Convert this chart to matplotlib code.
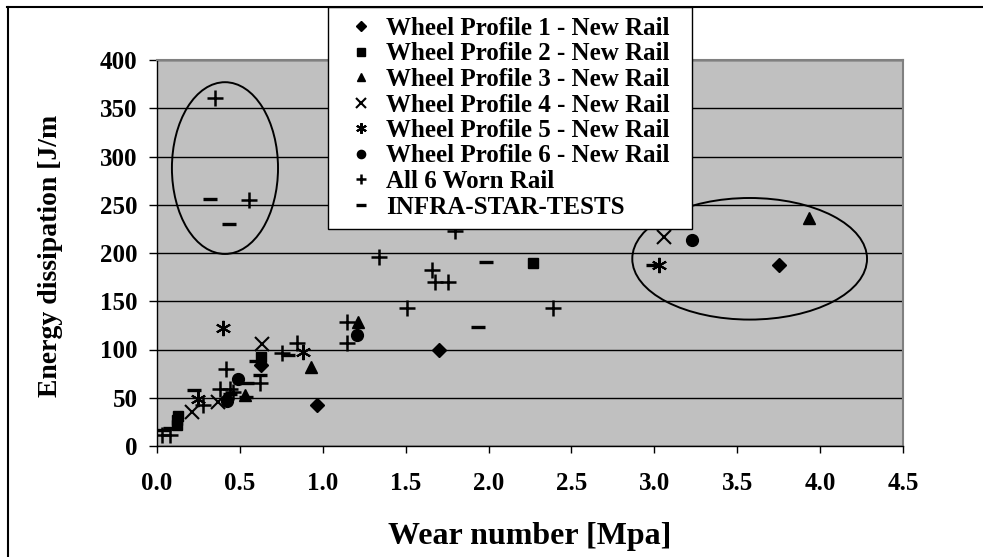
import matplotlib
matplotlib.use("Agg")
import matplotlib.pyplot as plt
from matplotlib.patches import Ellipse
from matplotlib.lines import Line2D

plt.rcParams['font.family'] = ['Liberation Serif', 'DejaVu Serif']
plt.rcParams['font.weight'] = 'bold'

# wear number [Mpa] vs energy dissipation [J/m]
p1_x = [0.627, 0.966, 1.70, 3.75]
p1_y = [84, 42.5, 99, 188]
p2_x = [0.12, 0.12, 0.125, 0.63, 2.27]
p2_y = [22, 27, 31, 92, 190]
p3_x = [0.53, 0.926, 1.21, 3.93]
p3_y = [53, 82, 129, 236]
p4_x = [0.213, 0.37, 0.635, 3.06]
p4_y = [35.5, 46, 106, 217]
p5_x = [0.25, 0.40, 0.88, 3.03]
p5_y = [49, 122, 97, 188]
p6_x = [0.42, 0.49, 1.207, 3.23]
p6_y = [46.5, 69, 115, 213]
worn_x = [0.032, 0.078, 0.28, 0.38, 0.44, 0.46, 0.414, 0.62, 0.757, 0.845,
          1.147, 1.147, 1.34, 1.51, 1.66, 1.675, 1.755, 1.80, 2.39, 0.35, 0.555]
worn_y = [11.5, 11.5, 42.5, 59, 59, 56, 80, 65.5, 96, 106.5,
          106.5, 129, 196, 143, 182, 170, 170, 223, 143, 361, 255]
infra_x = [0.04, 0.08, 0.225, 0.44, 0.54, 0.535, 0.62, 0.60, 0.79, 1.986,
           1.936, 2.99, 0.32, 0.435]
infra_y = [17, 19, 58, 53.5, 65.5, 51, 73.5, 88, 94, 191,
           123.6, 188, 256, 230]

labels = ['Wheel Profile 1 - New Rail', 'Wheel Profile 2 - New Rail',
          'Wheel Profile 3 - New Rail', 'Wheel Profile 4 - New Rail',
          'Wheel Profile 5 - New Rail', 'Wheel Profile 6 - New Rail',
          'All 6 Worn Rail', 'INFRA-STAR-TESTS']

fig = plt.figure(figsize=(9.83, 5.57), dpi=100)
ax = fig.add_axes([157/983, 1-446/557, 746/983, 386/557])
ax.set_facecolor('#c0c0c0')

ax.plot(p1_x, p1_y, 'D', color='black', ms=7, ls='none', label=labels[0])
ax.plot(p2_x, p2_y, 's', color='black', ms=7.5, ls='none', label=labels[1])
ax.plot(p3_x, p3_y, '^', color='black', ms=8.5, ls='none', label=labels[2])
ax.plot(p4_x, p4_y, 'x', color='black', ms=9.5, mew=1.5, ls='none', label=labels[3])
ax.plot(p5_x, p5_y, marker=(6, 2, 0), color='black', ms=11, mew=1.5, ls='none', label=labels[4])
ax.plot(p6_x, p6_y, 'o', color='black', ms=8.5, ls='none', label=labels[5])
ax.plot(worn_x, worn_y, '+', color='black', ms=11, mew=1.8, ls='none', label=labels[6])
ax.plot(infra_x, infra_y, '_', color='black', ms=9.5, mew=2.4, ls='none', label=labels[7])

# circled groups
ax.add_patch(Ellipse((0.41, 288), 0.64, 178, fill=False, edgecolor='black', lw=1.4, zorder=3))
ax.add_patch(Ellipse((3.575, 194), 1.416, 126, fill=False, edgecolor='black', lw=1.4, zorder=3))

ax.set_xlim(0, 4.5)
ax.set_ylim(0, 400)
ax.set_xticks([0.0, 0.5, 1.0, 1.5, 2.0, 2.5, 3.0, 3.5, 4.0, 4.5])
ax.set_xticklabels(['0.0', '0.5', '1.0', '1.5', '2.0', '2.5', '3.0', '3.5', '4.0', '4.5'])
ax.set_yticks(range(0, 401, 50))
ax.tick_params(axis='x', length=5, width=1, pad=14, labelsize=18)
ax.tick_params(axis='y', length=6, width=1, pad=8, labelsize=18)
ax.yaxis.grid(True, color='black', lw=1)
ax.set_axisbelow(True)
for s in ['top', 'right']:
    ax.spines[s].set_color('#808080')
    ax.spines[s].set_linewidth(1.5)
for s in ['left', 'bottom']:
    ax.spines[s].set_color('black')
    ax.spines[s].set_linewidth(1)

ax.set_xlabel('Wear number [Mpa]', fontsize=23, fontweight='bold', labelpad=19)
fig.text(51/983, 1-256/557, 'Energy dissipation [J/m', rotation=90, fontsize=20,
         fontweight='bold', ha='center', va='center')

leg = ax.legend(loc='upper left', bbox_to_anchor=(328/983, 1-227/557, 364/983, 220/557),
                bbox_transform=fig.transFigure, mode='expand', borderaxespad=0,
                fancybox=False, framealpha=1, edgecolor='black', handlelength=1.8,
                handletextpad=0.12, labelspacing=0.1, borderpad=0.4, fontsize=18,
                markerscale=0.7)
leg.get_frame().set_linewidth(1)
leg.set_zorder(10)

# outer chart border (clipped on right and bottom)
fig.add_artist(Line2D([7/983, 1], [1-7/557, 1-7/557], color='black', lw=1.5))
fig.add_artist(Line2D([8/983, 8/983], [0, 1-7/557], color='black', lw=1.5))

fig.savefig('out.png', dpi=100)
